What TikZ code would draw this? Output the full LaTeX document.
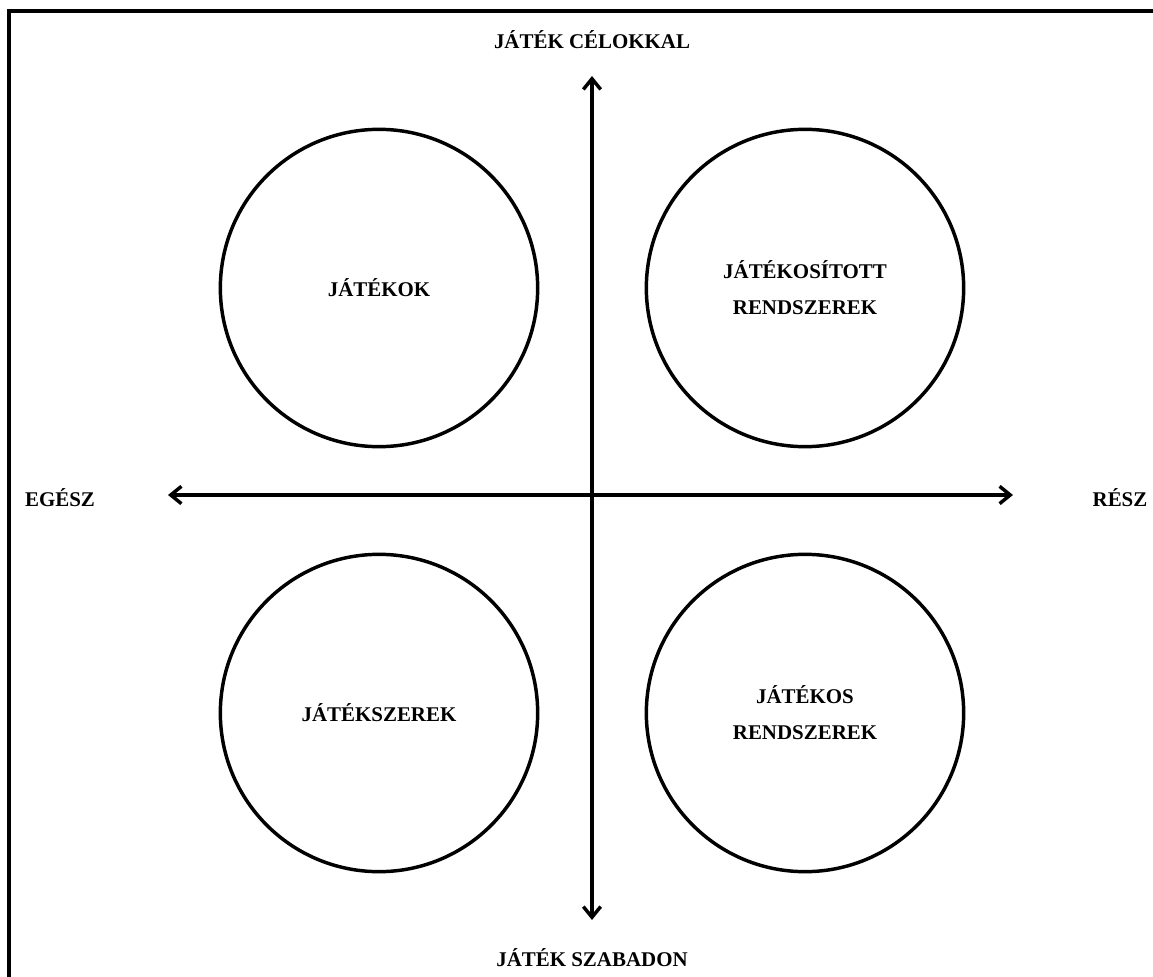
\documentclass[tikz,border=0pt]{standalone}
\usepackage{fontspec}
\setmainfont{Liberation Serif}
\usetikzlibrary{arrows.meta,positioning}

\begin{document}
\begin{tikzpicture}[x=0.75pt,y=-0.75pt,
quadrant/.style={
% The shape:
circle,
% The size:
minimum size=238pt,
% The border:
line width=2.6pt,
draw=black,
% Font
align=center,
font=\bfseries\fontsize{15.7}{27}\selectfont
}, axislabel/.style={
% Font
inner sep=0pt,
font=\bfseries\fontsize{15.7}{19}\selectfont},
axis/.style={
% The line:
line width=2.6pt,
% The tips:
{Straight Barb[length=8pt,width=13pt]}-{Straight Barb[length=8pt,width=13pt]}
}]

\useasboundingbox (0,0) rectangle (1153,977);
% frame, cut by the page on the right and at the bottom
\draw[line width=2.6pt] (9,990) -- (9,11) -- (1170,11);

\coordinate (top) at (592,76);
\coordinate (bottom) at (592,920);
\coordinate (left) at (168,495);
\coordinate (right) at (1013,495);

\node (jatekok) [quadrant] at (379,288) {JÁTÉKOK};
\node (jatekositott) [quadrant] at (805,288) {JÁTÉKOSÍTOTT \\ RENDSZEREK};
\node (jatekszerek) [quadrant] at (379,713) {JÁTÉKSZEREK};
\node (jatekos) [quadrant] at (805,713) {JÁTÉKOS \\ RENDSZEREK};

\node (celok) [axislabel] at (592,40) {JÁTÉK CÉLOKKAL};
\node (szabadon) [axislabel] at (592,958) {JÁTÉK SZABADON};
\node (egesz) [axislabel] at (60,498) {EGÉSZ};
\node (resz) [axislabel] at (1120,498) {RÉSZ};

\path (top) edge[axis] (bottom);
\path (left) edge[axis] (right);
%\node (0,0) node [quadrant] {JÁTÉKOK};
\end{tikzpicture}
\end{document}
